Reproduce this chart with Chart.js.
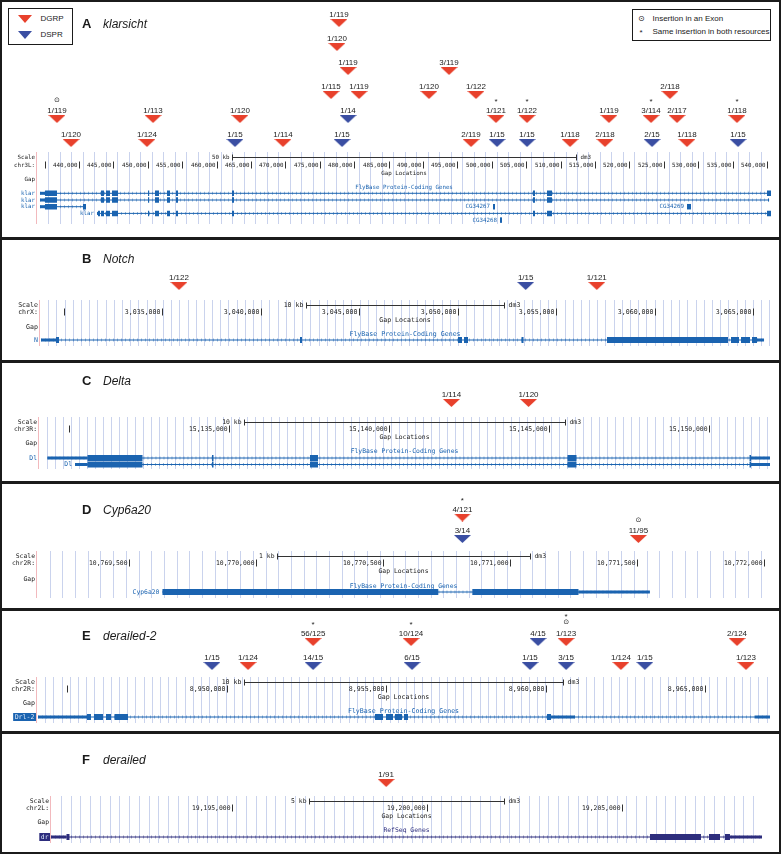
<!DOCTYPE html>
<html>
<head>
<meta charset="utf-8">
<title>Insertions in six genes</title>
<script src="https://cdn.jsdelivr.net/npm/chart.js@4.4.1/dist/chart.umd.min.js"></script>
<style>
  body{margin:0;width:781px;height:854px;position:relative;overflow:hidden;background:#fff;font-family:"Liberation Sans",Arial,sans-serif;color:#1a1a1a}
  canvas{position:absolute;left:0}
  .panel{position:absolute;left:0;width:777px;border:2px solid #1b1b1b;z-index:2;pointer-events:none}
  .ttl{position:absolute;z-index:3;line-height:14px;white-space:nowrap;left:82px}
  .ttl b{font-size:13px;display:inline-block;width:21px}
  .ttl i{font-size:12px}
  .box{position:absolute;border:1.5px solid #1b1b1b;z-index:3;background:#fff}
  .box span{position:absolute;font-size:8px;line-height:10px;white-space:nowrap}
  .tri{width:0;height:0;border-left:7.5px solid transparent;border-right:7.5px solid transparent;border-top:8px solid}
</style>
</head>
<body>
<div class="box" style="left:8px;top:8px;width:63px;height:35px">
  <span class="tri" style="left:8.5px;top:5.5px;border-top-color:#e8412c"></span><span style="left:31.5px;top:4.8px">DGRP</span>
  <span class="tri" style="left:8.5px;top:21.5px;border-top-color:#3a4ea2"></span><span style="left:31.5px;top:20.8px">DSPR</span>
</div>
<div class="box" style="left:632px;top:9px;width:137px;height:30px">
  <span style="left:5px;top:3.8px;font-family:'DejaVu Sans'">⊙</span><span style="left:19.5px;top:3.8px">Insertion in an Exon</span>
  <span style="left:6.5px;top:17.5px">*</span><span style="left:19.5px;top:16.8px">Same insertion in both resources</span>
</div>
<div class="ttl" style="top:16px"><b>A</b><i>klarsicht</i></div>
<div class="ttl" style="top:251px"><b>B</b><i>Notch</i></div>
<div class="ttl" style="top:373px"><b>C</b><i>Delta</i></div>
<div class="ttl" style="top:502px"><b>D</b><i>Cyp6a20</i></div>
<div class="ttl" style="top:628px"><b>E</b><i>derailed-2</i></div>
<div class="ttl" style="top:752px"><b>F</b><i>derailed</i></div>
<script>
const W=781;
const RED='#e8412c', BLUE='#3a4ea2', FB='#1a63b0', REF='#2d2d7d';

// A  klarsicht, chr3L
const aRedPos=[438840,436800,449880,450760,463400,469650,476630,480700,479100,477500,477790,490870,493780,497700,496980,500610,505120,511370,517030,516450,523140,525900,526920,528370,535640];
const aRedLab=['1/120','1/119','1/124','1/113','1/120','1/114','1/115','1/119','1/119','1/120','1/119','1/120','3/119','1/122','2/119','1/121','1/122','1/118','1/119','2/118','3/114','2/118','2/117','1/118','1/118'];
const aRedLvl=[1,2,1,2,2,1,3,3,4,5,6,3,4,3,1,2,2,1,2,1,2,3,2,1,2];
const aRedMark=['','o','','','','','','','','','','','','','','*','*','','','','*','','','','*'];
const aBluePos=[462670,478230,479100,500760,505120,523290,535790];
const aBlueLab=['1/15','1/15','1/14','1/15','1/15','2/15','1/15'];
const aBlueLvl=[1,1,2,1,1,1,1];
const aBlueMark=['','','','','','',''];
const aKlarCore=[[443198,443634],[443924,444506],[444797,445669],[450029,450200],[451047,451628],[452791,453227],[454099,454390],[462239,462529],[505989,506279],[508024,508750]];
const aGeneName=['klar','klar','klar','klar','CG34267','CG34269','CG34268'];
const aGeneRow=[1,2,3,4,3,3,5];
const aGeneSpan=[[434331,540581],[434331,540300],[434331,441017],[442616,540581],[500175,500465],[528372,528953],[501192,501483]];
const aGeneCds=[[[435058,436802],...aKlarCore,[540000,540581]],[[435058,436802],...aKlarCore],[[435058,436802],[440581,441017]],[[442762,443052],...aKlarCore,[540000,540581]],[[500175,500465]],[[528372,528953]],[[501192,501483]]];
const aGeneUtr=[[[434331,435058]],[[434331,435058],[540150,540300]],[[434331,435058]],[[442616,442762]],[],[],[]];

// B  Notch, chrX
const bRedPos=[3035860,3057070], bRedLab=['1/122','1/121'], bRedLvl=[1,1], bRedMark=['',''];
const bBluePos=[3053460], bBlueLab=['1/15'], bBlueLvl=[1], bBlueMark=[''];
const bGeneName=['N'], bGeneRow=[1], bGeneSpan=[[3028858,3065559]];
const bGeneCds=[[[3029619,3029772],[3042005,3042106],[3050025,3050228],[3050330,3050533],[3053248,3053350],[3057588,3063730],[3063883,3064289],[3064391,3064848],[3064949,3065203]]];
const bGeneUtr=[[[3028858,3029619],[3065203,3065559]]];

// C  Delta, chr3R
const cRedPos=[15141950,15144360], cRedLab=['1/114','1/120'], cRedLvl=[1,1], cRedMark=['',''];
const cDlCds=[[15130578,15132297],[15134469,15134516],[15137531,15137781],[15145578,15145859],[15151266,15151313]];
const cGeneName=['Dl','Dl'], cGeneRow=[1,2], cGeneSpan=[[15129328,15151906],[15130188,15151906]];
const cGeneCds=[cDlCds,cDlCds];
const cGeneUtr=[[[15129328,15130578],[15151313,15151906]],[[15130188,15130578],[15151313,15151906]]];

// D  Cyp6a20, chr2R
const dRedPos=[10770813,10771506], dRedLab=['4/121','11/95'], dRedLvl=[2,1], dRedMark=['*','o'];
const dBluePos=[10770813], dBlueLab=['3/14'], dBlueLvl=[1], dBlueMark=[''];
const dGeneName=['Cyp6a20'], dGeneRow=[1], dGeneSpan=[[10769632,10771551]];
const dGeneCds=[[[10769632,10770718],[10770852,10771270]]];
const dGeneUtr=[[[10771270,10771551]]];

// E  derailed-2, chr2R
const eRedPos=[8952700,8955770,8960630,8965990,8950660,8962350,8966270];
const eRedLab=['56/125','10/124','1/123','2/124','1/124','1/124','1/123'];
const eRedLvl=[2,2,2,2,1,1,1];
const eRedMark=['*','*','*o','','','',''];
const eBluePos=[8959750,8949530,8952700,8955800,8959500,8960630,8963100];
const eBlueLab=['4/15','1/15','14/15','6/15','1/15','3/15','1/15'];
const eBlueLvl=[2,1,1,1,1,1,1];
const eBlueMark=['','','','','','',''];
const eGeneName=['Drl-2'], eGeneRow=[1], eGeneSpan=[[8944075,8967023]];
const eGeneCds=[[[8945611,8945736],[8945830,8946113],[8946207,8946364],[8946473,8946896],[8954640,8954891],[8954985,8955204],[8955267,8955486],[8955549,8955674],[8960032,8960157]]];
const eGeneUtr=[[[8944075,8945611],[8960157,8960910],[8966553,8967023]]];

// F  derailed, chr2L
const fRedPos=[19198940], fRedLab=['1/91'], fRedLvl=[1], fRedMark=[''];
const fGeneName=['dr'], fGeneRow=[1], fGeneSpan=[[19190347,19208577]];
const fGeneCds=[[[19190744,19190821],[19205705,19207012],[19207218,19207500],[19207628,19207756]]];
const fGeneUtr=[[[19190347,19190744],[19207756,19208577]]];

const FBT='FlyBase Protein-Coding Genes';
const panels=[
 {id:'A',top:0,bottom:238,left:37,right:771,xMin:433895,xMax:540582,grid:1670,major:5000,bar:50000,barTxt:'50 kb',chr:'chr3L:',fs:5.8,
  scale:157,chrY:165,gapLoc:173,gap:179,trk:187,row0:193.3,rowGap:6.7,gTop:152,gBot:224,lvl0:143,lvlGap:24,track:FBT,color:FB,chev:'rgba(26,99,176,0.45)',
  red:[aRedPos,aRedLab,aRedLvl,aRedMark],blue:[aBluePos,aBlueLab,aBlueLvl,aBlueMark],genes:[aGeneName,aGeneRow,aGeneSpan,aGeneCds,aGeneUtr]},
 {id:'B',top:238,bottom:361,left:40,right:770,xMin:3028807,xMax:3065862,grid:416,major:5000,bar:10000,barTxt:'10 kb',chr:'chrX:',fs:6.6,
  scale:305,chrY:312,gapLoc:320,gap:327,trk:334,row0:340,rowGap:6.5,gTop:300,gBot:346,lvl0:286,lvlGap:24,track:FBT,color:FB,chev:'rgba(26,99,176,0.45)',
  red:[bRedPos,bRedLab,bRedLvl,bRedMark],blue:[bBluePos,bBlueLab,bBlueLvl,bBlueMark],genes:[bGeneName,bGeneRow,bGeneSpan,bGeneCds,bGeneUtr]},
 {id:'C',top:361,bottom:482,left:39,right:770,xMin:15129063,xMax:15151906,grid:250,major:5000,bar:10000,barTxt:'10 kb',chr:'chr3R:',fs:6.4,
  scale:422,chrY:429,gapLoc:437,gap:443,trk:451,row0:458,rowGap:6.5,gTop:417,gBot:469,lvl0:403,lvlGap:24,track:FBT,color:FB,chev:'rgba(26,99,176,0.45)',
  red:[cRedPos,cRedLab,cRedLvl,cRedMark],blue:null,genes:[cGeneName,cGeneRow,cGeneSpan,cGeneCds,cGeneUtr]},
 {id:'D',top:482,bottom:609,left:37,right:770,xMin:10769138,xMax:10772024,grid:50,major:500,bar:1000,barTxt:'1 kb',chr:'chr2R:',fs:6.4,
  scale:556,chrY:563,gapLoc:571,gap:579,trk:586,row0:592,rowGap:6.5,gTop:551,gBot:598,lvl0:539,lvlGap:21.5,track:FBT,color:FB,chev:'rgba(26,99,176,0.45)',
  red:[dRedPos,dRedLab,dRedLvl,dRedMark],blue:[dBluePos,dBlueLab,dBlueLvl,dBlueMark],genes:[dGeneName,dGeneRow,dGeneSpan,dGeneCds,dGeneUtr]},
 {id:'E',top:609,bottom:732,left:37,right:770,xMin:8944044,xMax:8967023,grid:257,major:5000,bar:10000,barTxt:'10 kb',chr:'chr2R:',fs:6.6,
  scale:682,chrY:689,gapLoc:697,gap:703,trk:711,row0:717,rowGap:6.5,gTop:677,gBot:723,lvl0:666,lvlGap:24,track:FBT,color:FB,chev:'rgba(26,99,176,0.45)',boxed:true,
  red:[eRedPos,eRedLab,eRedLvl,eRedMark],blue:[eBluePos,eBlueLab,eBlueLvl,eBlueMark],genes:[eGeneName,eGeneRow,eGeneSpan,eGeneCds,eGeneUtr]},
 {id:'F',top:732,bottom:853,left:51,right:762,xMin:19190347,xMax:19208577,grid:250,major:5000,bar:5000,barTxt:'5 kb',chr:'chr2L:',fs:6.4,
  scale:801,chrY:808,gapLoc:816,gap:822,trk:830,row0:837,rowGap:6.5,gTop:796,gBot:843,lvl0:783,lvlGap:24,track:'RefSeq Genes',color:REF,chev:'rgba(45,45,125,0.45)',boxed:true,
  red:[fRedPos,fRedLab,fRedLvl,fRedMark],blue:null,genes:[fGeneName,fGeneRow,fGeneSpan,fGeneCds,fGeneUtr]}
];

function triImg(color){
  const c=document.createElement('canvas'); c.width=17; c.height=8;
  const g=c.getContext('2d'); g.fillStyle=color;
  g.beginPath(); g.moveTo(0,0); g.lineTo(17,0); g.lineTo(8.5,8); g.closePath(); g.fill();
  return c;
}
const redImg=triImg(RED), blueImg=triImg(BLUE);

function seg(list,y){
  const d=[];
  list.forEach(s=>{ d.push({x:s[0],y:y},{x:s[1],y:y},{x:s[1],y:null}); });
  return d;
}
function line(data,color,w,order){
  return {type:'line',data:data,borderColor:color,borderWidth:w,borderCapStyle:'butt',pointRadius:0,fill:false,spanGaps:false,tension:0,order:order};
}

const byId={};
const trackPlugin={
  id:'track',
  beforeDatasetsDraw(chart){
    const P=byId[chart.canvas.id], c=chart.ctx, xs=chart.scales.x, T=P.top;
    const px=v=>xs.getPixelForValue(v);
    c.save();
    // guide lines
    c.lineWidth=1; c.strokeStyle='rgba(150,168,220,0.5)';
    c.beginPath();
    for(let v=P.xMin+P.grid; v<P.xMax; v+=P.grid){
      const x=Math.round(px(v))+0.5; c.moveTo(x,P.gTop-T); c.lineTo(x,P.gBot-T);
    }
    c.stroke();
    c.strokeStyle='#f2b9bd'; c.beginPath(); c.moveTo(P.left-0.5,P.gTop-T); c.lineTo(P.left-0.5,P.gBot-T); c.stroke();
    // left labels
    c.font=P.fs+'px "DejaVu Sans Mono", monospace'; c.fillStyle='#222'; c.textBaseline='middle'; c.textAlign='right';
    c.fillText('Scale',P.left-2,P.scale-T); c.fillText(P.chr,P.left-2,P.chrY-T); c.fillText('Gap',P.left-2,P.gap-T);
    // scale bar
    const mid=(P.xMin+P.xMax)/2, b0=Math.round(px(mid-P.bar/2))+0.5, b1=Math.round(px(mid+P.bar/2))+0.5, sy=Math.round(P.scale-T)+0.5;
    c.strokeStyle='#333'; c.beginPath();
    c.moveTo(b0,sy); c.lineTo(b1,sy); c.moveTo(b0,sy-3); c.lineTo(b0,sy+3); c.moveTo(b1,sy-3); c.lineTo(b1,sy+3);
    c.stroke();
    c.fillText(P.barTxt,b0-3,P.scale-T); c.textAlign='left'; c.fillText('dm3',b1+4,P.scale-T);
    // coordinate ticks
    c.textAlign='right'; c.beginPath();
    for(let v=Math.ceil(P.xMin/P.major)*P.major; v<=P.xMax; v+=P.major){
      const x=Math.round(px(v))+0.5; c.moveTo(x,P.chrY-T-3.5); c.lineTo(x,P.chrY-T+3.5);
      const s=v.toLocaleString('en-US');
      if(x-2-c.measureText(s).width>P.left+2) c.fillText(s,x-2,P.chrY-T);
    }
    c.stroke();
    c.textAlign='center';
    c.fillText('Gap Locations',(P.left+P.right)/2,P.gapLoc-T);
    c.fillStyle=P.color; c.fillText(P.track,(P.left+P.right)/2,P.trk-T);
    // gene names
    const [gn,gr,gs]=P.genes;
    c.textAlign='right';
    gn.forEach((n,i)=>{
      const y=P.row0+(gr[i]-1)*P.rowGap-T, sx=px(gs[i][0]);
      if(P.boxed){
        const w=c.measureText(n).width;
        c.fillStyle=P.color; c.fillRect(P.left-4-w,y-4,w+3,8);
        c.fillStyle='#d6e4f6'; c.fillText(n,P.left-2.5,y);
      } else {
        c.fillStyle=P.color;
        c.fillText(n, sx-P.left<20 ? P.left-2 : sx-3, y);
      }
    });
    c.restore();
  },
  afterDatasetsDraw(chart){
    const c=chart.ctx;
    c.save();
    c.fillStyle='#222'; c.textAlign='center';
    chart.data.datasets.forEach((ds,di)=>{
      if(!ds.isIns) return;
      chart.getDatasetMeta(di).data.forEach((pt,i)=>{
        c.font='8px "Liberation Sans", Arial, sans-serif'; c.textBaseline='alphabetic';
        c.fillText(ds.labels[i],pt.x,pt.y-6);
        const m=ds.marks[i];
        c.textBaseline='middle';
        if(m.includes('o')){ c.font='7px "DejaVu Sans"'; c.fillText('⊙',pt.x,pt.y-(m.includes('*')?20:19)); }
        if(m.includes('*')){ c.font='8px "Liberation Sans", Arial'; c.fillText('*',pt.x,pt.y-(m.includes('o')?27:19)+2); }
      });
    });
    c.restore();
  }
};

panels.forEach(P=>{
  const H=P.bottom-P.top;
  const box=document.createElement('div'); box.className='panel';
  box.style.top=P.top+'px'; box.style.height=(H-3)+'px';
  document.body.appendChild(box);
  const cv=document.createElement('canvas'); cv.id='c'+P.id; cv.width=W; cv.height=H;
  cv.style.top=P.top+'px'; cv.style.width=W+'px'; cv.style.height=H+'px';
  document.body.appendChild(cv);
  byId[cv.id]=P;
  const ds=[];
  const lv=l=>P.lvl0-(l-1)*P.lvlGap-P.top;
  [[P.red,redImg],[P.blue,blueImg]].forEach(([s,img])=>{
    if(!s) return;
    ds.push({type:'scatter',isIns:true,labels:s[1],marks:s[3],data:s[0].map((p,i)=>({x:p,y:lv(s[2][i])})),
      pointStyle:img,pointRadius:4,pointHoverRadius:4,order:0});
  });
  const [gn,gr,gs,gc,gu]=P.genes;
  gn.forEach((n,i)=>{
    const y=P.row0+(gr[i]-1)*P.rowGap-P.top;
    ds.push(line(seg(gc[i],y),P.color,P.id==='A'?5.5:6,1));
    ds.push(line(seg(gu[i],y),P.color,3,2));
    ds.push(Object.assign(line(seg([gs[i]],y),P.chev,3,3),{borderDash:[1,3]}));
    ds.push(line(seg([gs[i]],y),P.color,1,4));
  });
  new Chart(cv,{
    type:'scatter',
    data:{datasets:ds},
    options:{
      responsive:false,animation:false,devicePixelRatio:1,events:[],
      layout:{autoPadding:false,padding:{left:P.left,right:W-P.right,top:0,bottom:0}},
      plugins:{legend:{display:false},tooltip:{enabled:false}},
      scales:{
        x:{type:'linear',min:P.xMin,max:P.xMax,display:false},
        y:{type:'linear',min:0,max:H,reverse:true,display:false}
      }
    },
    plugins:[trackPlugin]
  });
});
</script>
</body>
</html>
